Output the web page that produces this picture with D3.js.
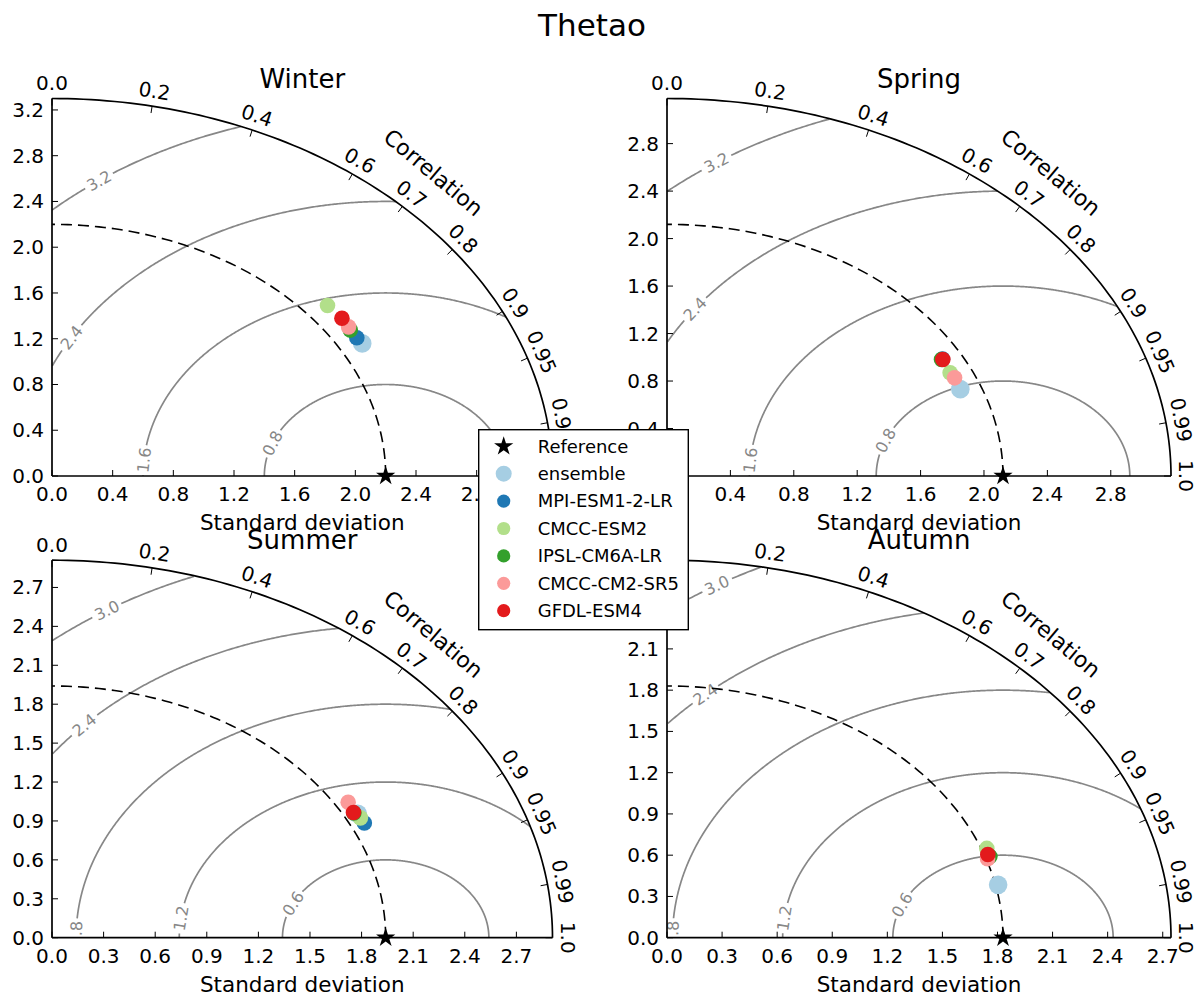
<!DOCTYPE html>
<html><head><meta charset="utf-8">
<script src="https://cdn.jsdelivr.net/npm/d3@7"></script>
<style>body{margin:0;background:#fff} svg{display:block} text{font-family:"DejaVu Sans",sans-serif}</style>
</head><body><svg id="chart" width="1197" height="999"></svg>
<script>
// ---------------- data ----------------
const mainTitle = "Thetao";
const seasons = ["Winter", "Spring", "Summer", "Autumn"];
const models = ["ensemble", "MPI-ESM1-2-LR", "CMCC-ESM2", "IPSL-CM6A-LR", "CMCC-CM2-SR5", "GFDL-ESM4"];
const modelColors = ["#a6cee3", "#1f78b4", "#b2df8a", "#33a02c", "#fb9a99", "#e31a1c"];
const refStd = [2.2, 2.12, 1.94, 1.83];

const winterStd  = [2.351, 2.345, 2.350, 2.344, 2.350, 2.357];
const winterCorr = [0.870, 0.857, 0.773, 0.839, 0.832, 0.811];
const springStd  = [1.990, 1.998, 1.987, 1.991, 1.994, 1.998];
const springCorr = [0.930, 0.870, 0.899, 0.870, 0.910, 0.871];
const summerStd  = [2.018, 2.020, 2.017, 2.001, 2.014, 2.001];
const summerCorr = [0.881, 0.899, 0.889, 0.877, 0.855, 0.876];
const autumnStd  = [1.844, 1.850, 1.859, 1.855, 1.838, 1.849];
const autumnCorr = [0.978, 0.946, 0.937, 0.948, 0.950, 0.945];

const corrTicks = [0, 0.2, 0.4, 0.6, 0.7, 0.8, 0.9, 0.95, 0.99, 1];
const stdTicksWinter = [0, 0.4, 0.8, 1.2, 1.6, 2.0, 2.4, 2.8, 3.2];
const stdTicksSpring = [0, 0.4, 0.8, 1.2, 1.6, 2.0, 2.4, 2.8];
const stdTicksSummer = [0, 0.3, 0.6, 0.9, 1.2, 1.5, 1.8, 2.1, 2.4, 2.7];
const stdTicksAutumn = [0, 0.3, 0.6, 0.9, 1.2, 1.5, 1.8, 2.1, 2.4, 2.7];

const rmsLevelsWinter = [0.8, 1.6, 2.4, 3.2];
const rmsLevelsSpring = [0.8, 1.6, 2.4, 3.2];
const rmsLevelsSummer = [0.6, 1.2, 1.8, 2.4, 3.0];
const rmsLevelsAutumn = [0.6, 1.2, 1.8, 2.4, 3.0];

// ---------------- layout (not data) ----------------
const labelAngles = [
  [159, 175, 149.7, 126.2],
  [158, 175.2, 144.1, 124.4],
  [153.9, 172.8, 179, 136.9, 122.7],
  [156.5, 173.2, 179, 132.5, 121.3]
];
const panelStd = [winterStd, springStd, summerStd, autumnStd];
const panelCorr = [winterCorr, springCorr, summerCorr, autumnCorr];
const panelTicks = [stdTicksWinter, stdTicksSpring, stdTicksSummer, stdTicksAutumn];
const panelLevels = [rmsLevelsWinter, rmsLevelsSpring, rmsLevelsSummer, rmsLevelsAutumn];

const svg = d3.select("#chart");
const gray = "#878787";

svg.append("text").attr("x", 592).attr("y", 36).attr("text-anchor", "middle")
  .attr("font-size", 31).text(mainTitle);

function drawPanel(i) {
  const col = i % 2, row = Math.floor(i / 2);
  const ox = col === 0 ? 52 : 667;
  const oy = row === 0 ? 476 : 937.7;
  const W = col === 0 ? 500.5 : 504;
  const H = 377.5;
  const ref = refStd[i];
  const smax = 1.5 * ref;
  const x = d3.scaleLinear().domain([0, smax]).range([ox, ox + W]);
  const y = d3.scaleLinear().domain([0, smax]).range([oy, oy - H]);
  const pt = (s, th) => [x(s * Math.cos(th)), y(s * Math.sin(th))];
  const g = svg.append("g");

  const clipId = "clip" + i;
  svg.append("defs").append("clipPath").attr("id", clipId)
    .append("rect").attr("x", ox).attr("y", oy - H).attr("width", W).attr("height", H);

  // RMS contours
  const cg = g.append("g").attr("clip-path", `url(#${clipId})`);
  panelLevels[i].forEach((c, k) => {
    const phiL = labelAngles[i][k] * Math.PI / 180;
    const ldx = ref + c * Math.cos(phiL), ldy = c * Math.sin(phiL);
    const lx = x(ldx), ly = y(ldy);
    const N = 800;
    const pts = d3.range(N + 1).map(j => {
      const phi = Math.PI * j / N;
      const dx = ref + c * Math.cos(phi), dy = c * Math.sin(phi);
      return {dx, dy, sx: x(dx), sy: y(dy)};
    });
    const line = d3.line()
      .defined(p => p.dx >= 0 && Math.hypot(p.dx, p.dy) <= smax * 1.0005 && Math.hypot(p.sx - lx, p.sy - ly) > 15)
      .x(p => p.sx).y(p => p.sy);
    cg.append("path").attr("d", line(pts)).attr("fill", "none")
      .attr("stroke", gray).attr("stroke-width", 1.7);
    const tx = -Math.sin(phiL) * (x(1) - x(0));
    const ty = -Math.cos(phiL) * (y(0) - y(1));
    let ang = Math.atan2(ty, tx) * 180 / Math.PI;
    if (ang > 90) ang -= 180;
    if (ang < -90) ang += 180;
    cg.append("text").attr("transform", `translate(${lx},${ly}) rotate(${ang})`)
      .attr("text-anchor", "middle").attr("dy", "0.36em")
      .attr("font-size", 16).attr("fill", gray).text(d3.format(".1f")(c));
  });

  // reference dashed arc
  const thetas = d3.range(0, 101).map(j => Math.PI / 2 * j / 100);
  g.append("path").attr("d", d3.line()(thetas.map(t => pt(ref, t))))
    .attr("fill", "none").attr("stroke", "#000").attr("stroke-width", 1.6)
    .attr("stroke-dasharray", "11,6");

  // frame
  g.append("path").attr("d", d3.line()(thetas.map(t => pt(smax, t))))
    .attr("fill", "none").attr("stroke", "#000").attr("stroke-width", 1.7);
  g.append("line").attr("x1", x(0)).attr("y1", y(0)).attr("x2", x(0)).attr("y2", y(smax))
    .attr("stroke", "#000").attr("stroke-width", 1.7);
  g.append("line").attr("x1", x(0)).attr("y1", y(0)).attr("x2", x(smax)).attr("y2", y(0))
    .attr("stroke", "#000").attr("stroke-width", 1.7);

  // std ticks
  const fmt = d3.format(".1f");
  panelTicks[i].forEach(t => {
    g.append("line").attr("x1", x(t)).attr("x2", x(t)).attr("y1", oy).attr("y2", oy - 6)
      .attr("stroke", "#000").attr("stroke-width", 1);
    g.append("text").attr("x", x(t)).attr("y", oy + 25).attr("text-anchor", "middle")
      .attr("font-size", 20).text(fmt(t));
    g.append("line").attr("y1", y(t)).attr("y2", y(t)).attr("x1", ox).attr("x2", ox + 6)
      .attr("stroke", "#000").attr("stroke-width", 1);
    g.append("text").attr("x", ox - 8).attr("y", y(t) + 7).attr("text-anchor", "end")
      .attr("font-size", 20).text(fmt(t));
  });

  // correlation ticks
  const normalAt = th => {
    const nx = Math.cos(th) / W, ny = Math.sin(th) / H;
    const L = Math.hypot(nx, ny);
    return [nx / L, ny / L];
  };
  corrTicks.forEach(cv => {
    const th = Math.acos(cv);
    const [px, py] = pt(smax, th);
    const [nx, ny] = normalAt(th);
    g.append("line").attr("x1", px).attr("y1", py).attr("x2", px - 7 * nx).attr("y2", py + 7 * ny)
      .attr("stroke", "#000").attr("stroke-width", 1);
    const rot = Math.atan2(nx, ny) * 180 / Math.PI;
    g.append("text").attr("transform", `translate(${px + 15.5 * nx},${py - 15.5 * ny}) rotate(${rot})`)
      .attr("text-anchor", "middle").attr("dy", "0.36em").attr("font-size", 20)
      .text(String(cv === 0 ? "0.0" : cv === 1 ? "1.0" : cv));
  });
  {
    const th = Math.PI / 4;
    const [px, py] = pt(smax, th);
    const [nx, ny] = normalAt(th);
    const rot = Math.atan2(nx, ny) * 180 / Math.PI;
    g.append("text").attr("transform", `translate(${px + 46 * nx},${py - 46 * ny}) rotate(${rot + 3})`)
      .attr("text-anchor", "middle").attr("dy", "0.36em").attr("font-size", 22).text("Correlation");
  }

  // markers
  models.forEach((m, k) => {
    const s = panelStd[i][k], cr = panelCorr[i][k];
    const [px, py] = pt(s, Math.acos(cr));
    g.append("circle").attr("cx", px).attr("cy", py).attr("r", k === 0 ? 9.3 : 7.8)
      .attr("fill", modelColors[k]);
  });
  g.append("path").attr("d", d3.symbol(d3.symbolStar, 115)())
    .attr("transform", `translate(${x(ref)},${y(0)})`).attr("fill", "#000");

  // titles
  g.append("text").attr("x", ox + W / 2).attr("y", oy - H - 11).attr("text-anchor", "middle")
    .attr("font-size", 26).text(seasons[i]);
  g.append("text").attr("x", ox + W / 2).attr("y", oy + 54).attr("text-anchor", "middle")
    .attr("font-size", 21.5).text("Standard deviation");
}

seasons.forEach((s, i) => drawPanel(i));

// legend
const lg = svg.append("g");
lg.append("rect").attr("x", 478.7).attr("y", 429.7).attr("width", 209.6).attr("height", 200)
  .attr("fill", "#fff").attr("stroke", "#000").attr("stroke-width", 1.4);
const rowY = k => 446.3 + k * 27.4;
lg.append("path").attr("d", d3.symbol(d3.symbolStar, 115)())
  .attr("transform", `translate(503.7,${rowY(0)})`).attr("fill", "#000");
lg.append("text").attr("x", 537.7).attr("y", rowY(0) + 6.3).attr("font-size", 18).text("Reference");
models.forEach((m, k) => {
  lg.append("circle").attr("cx", 503.7).attr("cy", rowY(k + 1)).attr("r", k === 0 ? 8 : 6.6)
    .attr("fill", modelColors[k]);
  lg.append("text").attr("x", 537.7).attr("y", rowY(k + 1) + 6.3).attr("font-size", 18).text(m);
});
</script></body></html>
